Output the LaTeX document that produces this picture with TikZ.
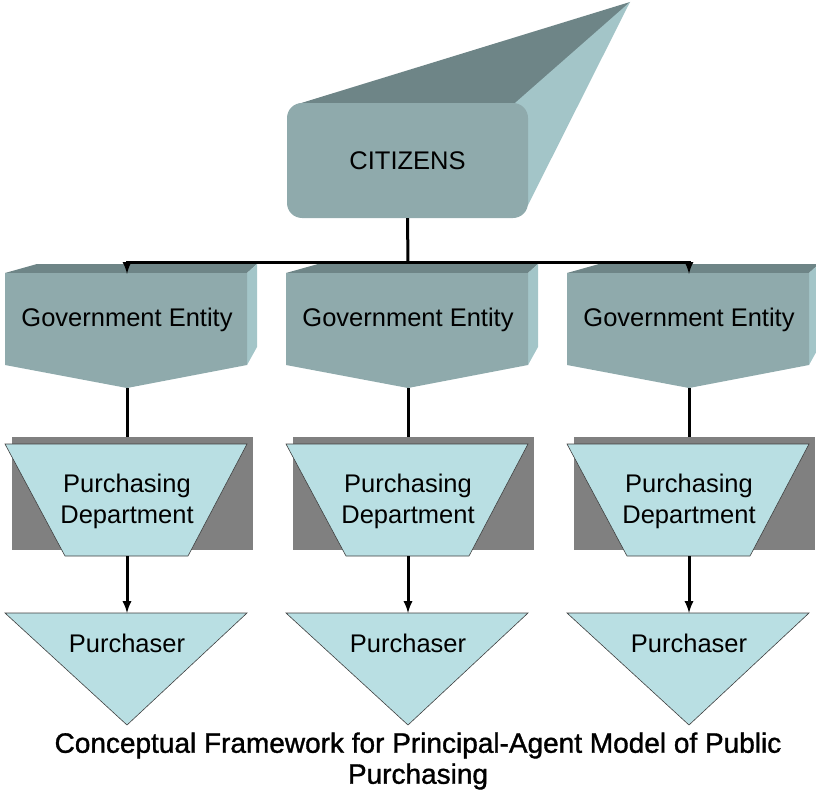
\documentclass[tikz,border=0pt]{standalone}
\usepackage{fontspec}
\setmainfont{Liberation Sans}
\newfontfamily\titlefont[FakeBold=1.2]{Liberation Sans}
\usepackage{xcolor}
\usepackage{tikz}
\usetikzlibrary{arrows,shapes,positioning}

\definecolor{frontcol}{HTML}{8FAAAC}
\definecolor{topcol}{HTML}{6E8587}
\definecolor{sidecol}{HTML}{A3C5C8}
\definecolor{lightcol}{HTML}{B9DFE3}
\definecolor{boxgray}{HTML}{808080}

\tikzset{
  boxtext/.style={font=\fontsize{25.5}{31}\selectfont, align=center, inner sep=0pt},
  citbox/.style={rectangle, rounded corners=15pt, fill=frontcol,
    minimum width=241pt, minimum height=115pt, boxtext},
  entbox/.style={rectangle, minimum width=242pt, minimum height=92pt, boxtext},
  graybox/.style={rectangle, fill=boxgray, minimum width=241pt, minimum height=113pt},
  link/.style={line width=3pt},
  arr/.style={link,-latex}
}

\begin{document}
\begin{tikzpicture}[x=1pt,y=-1pt]
    \useasboundingbox (0,0) rectangle (816,792);
    % citizens with its long extrusion
    \coordinate (apex) at (630,2);
    \fill[topcol] (298,104) -- (apex) -- (526,112) -- (515,103) -- cycle;
    \fill[sidecol] (515,103) -- (apex) -- (528,205) -- cycle;
    \node[citbox] (cit) at (407.5,160.5) {CITIZENS};

    \foreach \i/\x in {1/127,2/408,3/689} {
        % government entity
        \fill[topcol] (\x-122,273) -- (\x-90,264) -- (\x+130,264) -- (\x+120,273) -- cycle;
        \fill[sidecol] (\x+120,273) -- (\x+130,264) -- (\x+130,347) -- (\x+120,365) -- cycle;
        \fill[frontcol] (\x-122,273) -- (\x+120,273) -- (\x+120,365) -- (\x,388) -- (\x-122,365) -- cycle;
        \node[entbox] (ent\i) at (\x,320) {Government Entity};
        \coordinate (enttip\i) at (\x,388);
        % purchasing department
        \node[graybox] (gr\i) at (\x+5.5,493.5) {};
        \filldraw[fill=lightcol,draw=black!75,line width=0.6pt]
            (\x-122,444) -- (\x+120,444) -- (\x+61,556) -- (\x-62,556) -- cycle;
        \node[boxtext] (dep\i) at (\x,501) {Purchasing\\Department};
        \coordinate (deptip\i) at (\x,556);
        % purchaser
        \filldraw[fill=lightcol,draw=black!75,line width=0.6pt]
            (\x-122,613) -- (\x+120,613) -- (\x,725) -- cycle;
        \node[boxtext] (pur\i) at (\x,643) {Purchaser};
        \coordinate (purtop\i) at (\x,613);
        % links
        \draw[link] (enttip\i) -- (enttip\i |- gr\i.north);
        \draw[arr] (deptip\i) -- (purtop\i);
    }

    \coordinate (bar) at (408,262);
    \draw[link] (cit.south) -- (bar);
    \draw[arr] (bar) -| (ent1.north);
    \draw[arr] (bar) -| (ent3.north);

    \node[font=\titlefont\fontsize{28}{31}\selectfont, align=center] (title) at (418,761)
        {Conceptual Framework for Principal-Agent Model of Public\\Purchasing};
\end{tikzpicture}
\end{document}
